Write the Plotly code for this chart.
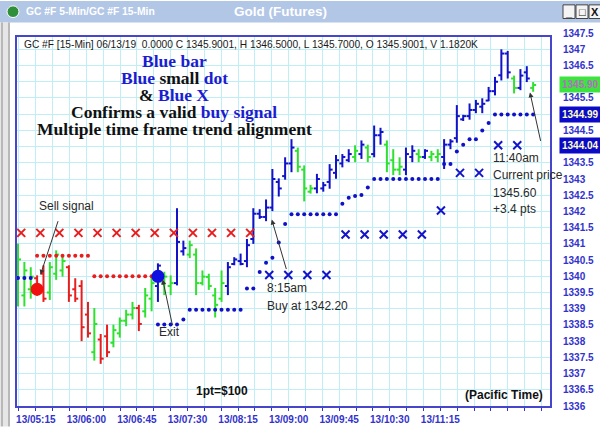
import plotly.graph_objects as go

# ---------------- data ----------------
bar_color = ['G','G','G','R','R','G','G','G','R','R','R','R','G','R','R','G','G','G','G','R',
             'G','G','B','G','G','B','B','G','G','G','G','G','G','B','B','B','B','B','B','B',
             'B','B','B','B','G','G','G','B','B','B','B','B','B','G','B','G','B','B','G','G',
             'G','B','B','G','B','G','G','B','B','B','B','B','B','B','B','B','B','B','G','B',
             'B','G']
bar_open = [1339.70,1339.41,1339.60,1339.94,1340.08,1339.50,1340.08,1340.18,1340.28,1339.60,
            1339.70,1338.82,1337.66,1338.05,1338.15,1337.95,1338.24,1338.63,1338.82,1339.02,
            1338.92,1339.31,1339.70,1339.79,1339.70,1339.79,1340.77,1340.67,1340.67,1339.79,
            1339.98,1339.41,1339.31,1339.70,1340.38,1340.47,1340.47,1341.15,1341.93,1341.83,
            1342.12,1342.91,1343.09,1343.48,1343.87,1343.29,1342.61,1342.71,1342.71,1342.91,
            1343.19,1343.48,1343.58,1343.68,1343.77,1343.97,1343.77,1344.35,1344.06,1343.58,
            1343.29,1343.29,1343.68,1343.77,1343.68,1343.68,1343.68,1343.68,1344.06,1344.26,
            1344.84,1344.94,1345.13,1345.23,1345.42,1345.71,1346.20,1346.87,1346.10,1345.81,
            1346.29,1345.81]
bar_high = [1341.01,1340.44,1340.28,1340.03,1340.34,1340.44,1340.80,1340.64,1340.34,1339.94,
            1339.88,1339.21,1339.02,1338.22,1338.51,1338.51,1338.73,1338.97,1339.21,1339.12,
            1339.64,1340.03,1340.40,1340.14,1340.03,1342.10,1341.10,1341.10,1340.86,1340.18,
            1340.08,1339.64,1340.18,1340.44,1340.59,1340.70,1341.15,1342.10,1342.07,1342.37,
            1343.31,1343.02,1343.67,1344.23,1343.97,1343.42,1342.82,1343.16,1342.91,1343.46,
            1343.74,1343.77,1343.92,1344.04,1344.19,1344.06,1344.65,1344.58,1344.19,1343.92,
            1343.67,1343.97,1344.04,1343.92,1343.92,1343.87,1343.92,1344.23,1344.23,1345.28,
            1344.98,1345.33,1345.44,1345.49,1345.84,1346.15,1347.00,1346.95,1346.19,1346.39,
            1346.48,1345.99]
bar_low = [1339.07,1339.07,1339.31,1339.40,1339.21,1339.27,1339.89,1339.99,1339.21,1339.21,
           1338.00,1338.11,1337.40,1337.30,1337.51,1337.81,1338.11,1338.46,1338.67,1338.31,
           1338.73,1338.92,1339.21,1339.42,1339.42,1339.72,1340.64,1340.56,1339.42,1339.72,
           1339.58,1338.73,1339.21,1339.42,1340.34,1340.34,1340.28,1341.00,1341.77,1341.70,
           1342.01,1342.46,1342.98,1343.21,1343.21,1342.31,1342.55,1342.56,1342.61,1342.70,
           1343.01,1343.36,1343.52,1343.52,1343.62,1343.52,1343.67,1344.06,1343.21,1343.12,
           1343.12,1343.12,1343.52,1343.52,1343.62,1343.55,1343.52,1343.31,1343.92,1344.12,
           1344.79,1344.83,1345.03,1345.03,1345.40,1345.58,1346.04,1346.10,1345.64,1345.74,
           1345.99,1345.69]
bar_close = [1340.52,1340.18,1339.99,1339.55,1339.31,1340.28,1340.67,1340.47,1339.41,1339.31,
             1338.43,1338.24,1338.53,1337.46,1337.66,1338.34,1338.63,1338.82,1339.02,1338.53,
             1339.41,1339.79,1340.33,1339.99,1339.79,1341.06,1340.87,1340.96,1339.79,1339.99,
             1339.70,1339.12,1339.79,1340.28,1340.52,1340.38,1340.96,1341.93,1341.83,1342.12,
             1343.00,1342.71,1343.48,1343.97,1343.38,1342.71,1342.71,1343.00,1342.81,1343.29,
             1343.58,1343.68,1343.77,1343.87,1344.06,1343.68,1344.35,1344.45,1343.48,1343.29,
             1343.38,1343.77,1343.87,1343.68,1343.87,1343.77,1343.77,1344.06,1344.16,1344.94,
             1344.94,1345.13,1345.32,1345.32,1345.71,1346.00,1346.87,1346.29,1345.81,1346.19,
             1346.10,1345.90]

# small stop dots (5-min)
red_dot_x = [3,4,5,6,7,8,9,10,11, 12,13,14,15,16,17,18,19,20,21]
red_dot_y = [1340.63,1340.63,1340.63,1340.63,1340.63,1340.63,1340.63,1340.63,1340.63,
             1340.00,1340.00,1340.00,1340.00,1340.00,1340.00,1340.00,1340.00,1340.00,1340.00]
blue_dot_x = [0,1,2, 22,23,24,25,26, 27,28,29,30,31,32,33,34,35, 36,37,38,39,40,41,42,
              43,44,45,46,47,48,49,50, 51,52,53,54,55, 56,57,58,59,60,61,62,63,64,65,66,
              67,68,69,70,71,72,73,74, 75,76,77,78,79,80,81]
blue_dot_y = [1339.95,1339.95,1339.95, 1338.51,1338.51,1338.51,1338.51,1338.67,
              1338.97,1338.97,1338.97,1338.97,1338.97,1338.97,1338.97,1338.97,1338.97,
              1339.62,1339.62,1340.13,1340.42,1340.57,1341.04,1341.61,
              1341.91,1341.91,1341.91,1341.91,1341.91,1341.91,1341.91,1341.91,
              1342.24,1342.42,1342.48,1342.51,1342.74,
              1343.00,1343.00,1343.00,1343.00,1343.00,1343.00,1343.00,1343.00,1343.00,1343.00,1343.00,
              1343.46,1343.46,1343.85,1344.06,1344.23,1344.23,1344.50,1344.73,
              1344.99,1344.99,1344.99,1344.99,1344.99,1344.99,1344.99]

# 15-min X markers
red_x_x = [0.5,3.5,6.5,9.5,12.5,15.5,18.5,21.5,24.5,27.5,30.5,33.5,36.5]
red_x_y = [1341.34,1341.34,1341.34,1341.34,1341.34,1341.34,1341.34,1341.34,1341.34,
           1341.34,1341.34,1341.34,1341.34]
blue_x_x = [39.5,42.5,45.5,48.5,51.5,54.5,57.5,60.5,63.5,66.5,69.5,72.5,75.5,78.5]
blue_x_y = [1340.04,1340.04,1340.04,1340.04,1341.29,1341.29,1341.29,1341.29,1341.29,
            1342.03,1343.19,1343.19,1344.04,1344.04]

# signal dots
sell_dot_x, sell_dot_y = [3], [1339.60]
exit_dot_x, exit_dot_y = [22], [1340.00]

# axes
x_tick_labels = ['13/05:15','13/06:00','13/06:45','13/07:30','13/08:15',
                 '13/09:00','13/09:45','13/10:30','13/11:15']
x_tick_pos = [2.8,10.75,18.7,26.65,34.6,42.55,50.5,58.45,66.4]
y_tick_values = [1336,1336.5,1337,1337.5,1338,1338.5,1339,1339.5,1340,1340.5,1341,1341.5,
                 1342,1342.5,1343,1343.5,1344,1344.5,1345,1345.5,1346,1346.5,1347,1347.5]
y_tick_text = ['1336','1336.5','1337','1337.5','1338','1338.5','1339','1339.5','1340','1340.5',
               '1341','1341.5','1342','1342.5','1343','1343.5','1344','1344.5','1345','1345.5',
               '1346','1346.5','1347','1347.5']
box_price = [1345.90, 1344.99, 1344.04]
box_text = ['1345.90', '1344.99', '1344.04']
box_bg = ['#3ee43e', '#0a0ac8', '#0a0ac8']
box_fg = ['#b070c0', '#ffffc8', '#ffffc8']

# ---------------- styling ----------------
W, H = 600, 437
ML, MR, MT, MB = 17, 50, 37, 21
PW, PH = W - ML - MR, H - MT - MB
Y_RANGE = [1336.0, 1347.38]
COL = {'G': '#30e030', 'R': '#e81e1e', 'B': '#1212c8'}
BLUE_TXT = '#1c1cd0'
AXIS_BLUE = '#3232cc'
GRID = '#bfeef4'
SANS = 'Liberation Sans, Arial, sans-serif'
SERIF = 'Liberation Serif, Times New Roman, serif'


def xp(px):
    return (px - ML) / PW


def yp(py):
    return (H - MB - py) / PH


def yv(val):
    return (val - Y_RANGE[0]) / (Y_RANGE[1] - Y_RANGE[0])


fig = go.Figure()

# OHLC bars grouped by colour
for code in ['R', 'G', 'B']:
    xs, ys = [], []
    for i, c in enumerate(bar_color):
        if c != code:
            continue
        xs += [i, i, None, i - 0.47, i, None, i, i + 0.47, None]
        ys += [bar_low[i], bar_high[i], None, bar_open[i], bar_open[i], None,
               bar_close[i], bar_close[i], None]
    fig.add_trace(go.Scatter(x=xs, y=ys, mode='lines',
                             line=dict(color=COL[code], width=2),
                             hoverinfo='skip', showlegend=False))

fig.add_trace(go.Scatter(x=red_dot_x, y=red_dot_y, mode='markers',
                         marker=dict(color='#e81e1e', size=4), showlegend=False))
fig.add_trace(go.Scatter(x=blue_dot_x, y=blue_dot_y, mode='markers',
                         marker=dict(color='#1010c8', size=4), showlegend=False))
fig.add_trace(go.Scatter(x=red_x_x, y=red_x_y, mode='markers',
                         marker=dict(symbol='x-thin', size=8, color='#e81e1e',
                                     line=dict(width=2, color='#e81e1e')), showlegend=False))
fig.add_trace(go.Scatter(x=blue_x_x, y=blue_x_y, mode='markers',
                         marker=dict(symbol='x-thin', size=8, color='#1414c8',
                                     line=dict(width=2, color='#1414c8')), showlegend=False))
fig.add_trace(go.Scatter(x=sell_dot_x, y=sell_dot_y, mode='markers',
                         marker=dict(color='#f01010', size=13), showlegend=False))
fig.add_trace(go.Scatter(x=exit_dot_x, y=exit_dot_y, mode='markers',
                         marker=dict(color='#1010e0', size=13), showlegend=False))

# minor ticks/grid at thirds between labelled ticks
step = (x_tick_pos[-1] - x_tick_pos[0]) / (len(x_tick_pos) - 1)
minor_vals = []
v = x_tick_pos[0] - step / 3
while v < 84:
    minor_vals.append(v)
    v += step / 3


def note(px, py, text, font, xanchor='center', **kw):
    d = dict(x=xp(px), y=yp(py), xref='paper', yref='paper', text=text, showarrow=False,
             xanchor=xanchor, yanchor='middle', font=font)
    d.update(kw)
    return d


ann = []
# y labels on the right (those hidden behind the price boxes are not drawn)
for val, txt in zip(y_tick_values, y_tick_text):
    if min(abs(val - b) for b in box_price) < 0.3:
        continue
    ann.append(dict(x=xp(561), xref='paper', y=yv(val), yref='paper', text=txt, showarrow=False,
                    xanchor='left', yanchor='middle',
                    font=dict(family=SANS, size=10, color=AXIS_BLUE, weight='bold')))
for val, txt, bg, fg in zip(box_price, box_text, box_bg, box_fg):
    ann.append(dict(x=xp(559), xref='paper', y=yv(val), yref='paper', text='<b>' + txt + '</b>',
                    showarrow=False, xanchor='left', yanchor='middle', align='left',
                    bgcolor=bg, borderpad=2, width=44,
                    font=dict(family=SANS, size=10, color=fg)))

# header line inside plot
ann.append(note(22, 45, 'GC #F [15-Min] 06/13/19  0.0000 C 1345.9001, H 1346.5000, L 1345.7000, O 1345.9001, V 1.1820K',
                dict(family=SANS, size=10.2, color='#1a1a1a'), xanchor='left'))

B = BLUE_TXT
big_lines = [
    (62, "<b><span style='color:%s'>Blue bar</span></b>" % B),
    (79.5, "<b><span style='color:%s'>Blue</span> small <span style='color:%s'>dot</span></b>" % (B, B)),
    (97, "<b>&amp; <span style='color:%s'>Blue X</span></b>" % B),
    (114, "<b>Confirms a valid <span style='color:%s'>buy signal</span></b>" % B),
    (131, "<b>Multiple time frame trend alignment</b>"),
]
for py, txt in big_lines:
    ann.append(note(174, py, txt, dict(family=SERIF, size=17.5, color='#111111')))

small = dict(family=SANS, size=12, color='#2a2a2a')
ann.append(note(66, 211, 'Sell signal', small))
ann.append(note(169, 340, 'Exit', small))
for py, txt in [(295, '8:15am'), (313, 'Buy at 1342.20')]:
    ann.append(note(265, py, txt, small, xanchor='left'))
for py, txt in [(161, '11:40am'), (179, 'Current price'), (197, '1345.60'), (214, '+3.4 pts')]:
    ann.append(note(491, py, txt, small, xanchor='left'))

# arrows (head at data point, tail offset in pixels)
for hx, hy, ax, ay in [(3.54, 1340.05, 18, -55), (22.75, 1339.90, 10, 47),
                       (39.9, 1341.75, 15, 51), (80.5, 1345.67, 11, 50)]:
    ann.append(dict(x=hx, y=hy, xref='x', yref='y', ax=ax, ay=ay, text='', showarrow=True,
                    arrowhead=2, arrowsize=1, arrowwidth=1, arrowcolor='#333333'))

ann.append(note(222, 401, '<b>1pt=$100</b>', dict(family=SANS, size=12, color='#111')))
ann.append(note(545, 405, '<b>(Pacific Time)</b>', dict(family=SANS, size=12, color='#111'),
                xanchor='right'))

# window chrome
ann.append(note(24, 11, '<b>GC #F 5-Min/GC #F 15-Min</b>',
                dict(family=SANS, size=10.3, color='white'), xanchor='left'))
ann.append(note(280, 11, '<b>Gold (Futures)</b>', dict(family=SANS, size=13.5, color='white')))
for cx, g in [(569, '_'), (582, '□'), (595, 'X')]:
    ann.append(note(cx, 11, '<b>%s</b>' % g, dict(family=SANS, size=11, color='#111')))

shapes = [
    dict(type='rect', xref='paper', yref='paper', x0=xp(0), x1=xp(600), y0=yp(22), y1=yp(0),
         fillcolor='#b2c6e6', line=dict(width=0), layer='below'),
    dict(type='rect', xref='paper', yref='paper', x0=xp(0), x1=xp(10), y0=yp(437), y1=yp(22),
         fillcolor='#e6e6e6', line=dict(width=0), layer='below'),
    dict(type='line', xref='paper', yref='paper', x0=xp(2), x1=xp(2), y0=yp(437), y1=yp(22),
         line=dict(color='#8a8a8a', width=1)),
    dict(type='line', xref='paper', yref='paper', x0=xp(9), x1=xp(9), y0=yp(437), y1=yp(22),
         line=dict(color='#8a8a8a', width=1)),
    dict(type='circle', xref='paper', yref='paper', x0=xp(7), x1=xp(19), y0=yp(17), y1=yp(5),
         fillcolor='#2f8f3a', line=dict(color='white', width=1)),
]
for x0 in [563, 576, 589]:
    shapes.append(dict(type='rect', xref='paper', yref='paper', x0=xp(x0), x1=xp(x0 + 12),
                       y0=yp(18), y1=yp(4), fillcolor='#f4f4f4',
                       line=dict(color='#444', width=1)))

fig.update_layout(
    width=W, height=H,
    margin=dict(l=ML, r=MR, t=MT, b=MB),
    paper_bgcolor='white', plot_bgcolor='white',
    showlegend=False,
    annotations=ann, shapes=shapes,
    xaxis=dict(range=[-0.16, 83.65], tickmode='array', tickvals=x_tick_pos, ticktext=x_tick_labels,
               ticks='outside', ticklen=3, tickcolor=AXIS_BLUE,
               tickfont=dict(family=SANS, size=10, color=AXIS_BLUE, weight='bold'),
               showgrid=True, gridcolor=GRID, gridwidth=1, zeroline=False,
               showline=True, linecolor='#4646cc', linewidth=1.5, mirror=True,
               minor=dict(tickvals=minor_vals, ticks='outside', ticklen=3, tickcolor=AXIS_BLUE,
                          showgrid=True, gridcolor=GRID, gridwidth=1)),
    yaxis=dict(range=Y_RANGE, tickmode='array', tickvals=y_tick_values,
               showticklabels=False, ticks='', showgrid=True, gridcolor=GRID, gridwidth=1,
               zeroline=False, showline=True, linecolor='#4646cc', linewidth=1.5, mirror=True),
)

fig.write_html('out.html', config={'displayModeBar': False},
               post_script="document.body.style.margin='0';document.body.style.overflow='hidden';")
